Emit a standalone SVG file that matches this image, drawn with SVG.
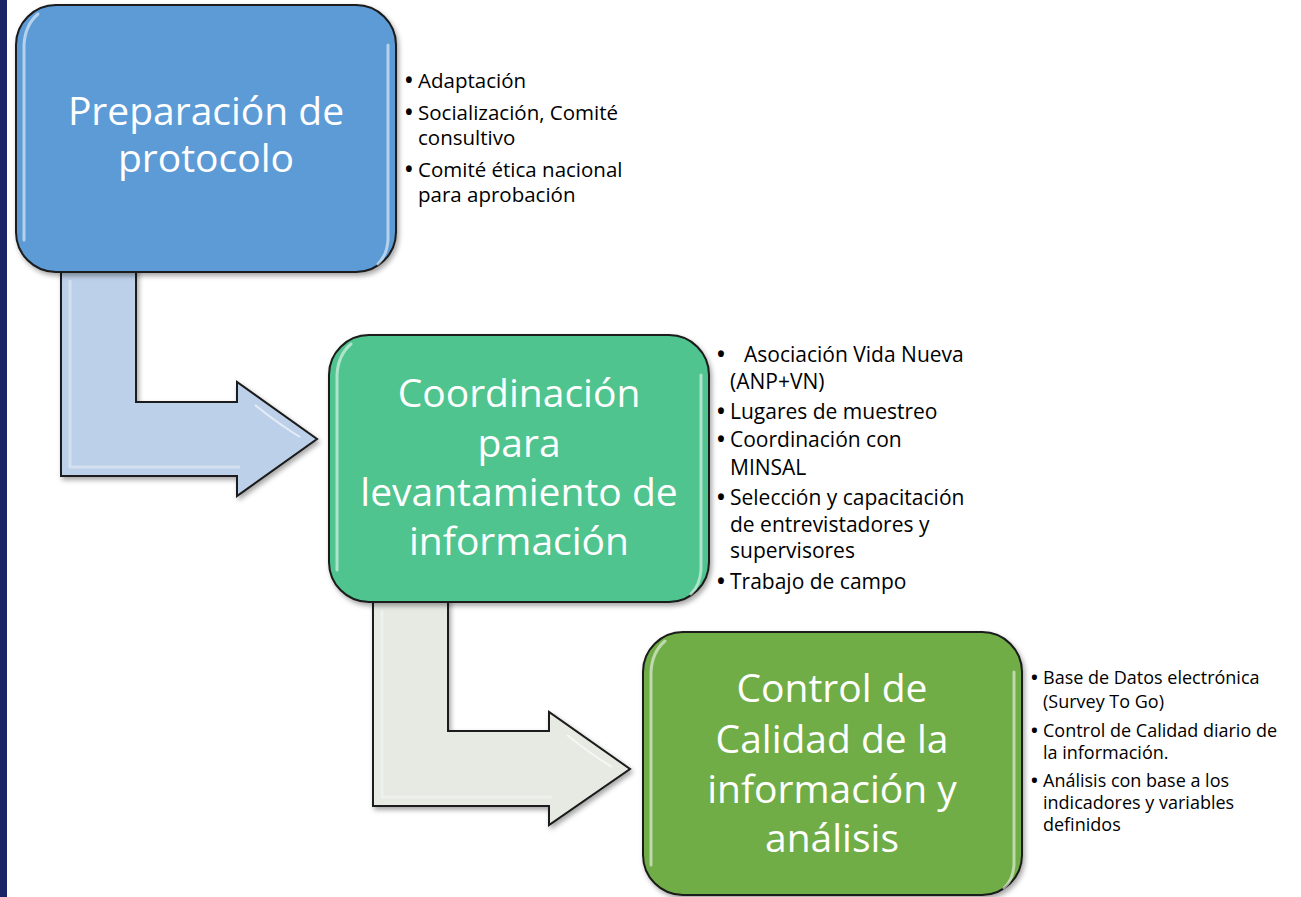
<svg xmlns="http://www.w3.org/2000/svg" width="1301" height="897" viewBox="0 0 1301 897">
<defs>
<style>
.box{stroke:#1a1a1a;stroke-width:2}
.hl{fill:none;stroke:#ffffff;stroke-width:3;stroke-linecap:round;opacity:0.55}
.arrow{stroke:#1a1a1a;stroke-width:2;stroke-linejoin:miter}
.ahl{fill:none;stroke:#ffffff;stroke-width:3;opacity:0.35}
.title{font-family:"Open Sans","Liberation Sans",sans-serif;font-size:39px;fill:#ffffff;text-anchor:middle}
.b1{font-family:"Open Sans","Liberation Sans",sans-serif;font-size:20.5px;fill:#000000}
.b2{font-family:"Open Sans","Liberation Sans",sans-serif;font-size:21px;fill:#000000}
.b3{font-family:"Open Sans","Liberation Sans",sans-serif;font-size:18px;fill:#000000}
.dot{font-weight:bold}
</style>
<filter id="sh" x="-10%" y="-10%" width="130%" height="130%">
<feDropShadow dx="2" dy="3" stdDeviation="2.5" flood-color="#000000" flood-opacity="0.35"/>
</filter>
</defs>
<rect x="0" y="0" width="1301" height="897" fill="#ffffff"/>
<rect x="0" y="0" width="7" height="897" fill="#1b2566"/>

<g id="connectors">
<g id="arrow1" filter="url(#sh)">
<path class="arrow" fill="#bdd0e9" d="M61,268 L136,268 L136,402 L237,402 L237,382 L317,439 L237,496 L237,476 L61,476 Z"/>
<path class="ahl" d="M70,280 L70,467 L240,467"/>
<path d="M255,405 Q280,425 300,437" fill="none" stroke="#ffffff" stroke-width="2" opacity="0.6"/>
</g>
<g id="arrow2" filter="url(#sh)">
<path class="arrow" fill="#e6eae3" d="M373,598 L448,598 L448,731 L549,731 L549,712 L630,769 L549,825 L549,806 L373,806 Z"/>
<path class="ahl" d="M382,610 L382,797 L552,797"/>
<path d="M567,735 Q592,755 612,767" fill="none" stroke="#ffffff" stroke-width="2" opacity="0.6"/>
</g>
</g>

<g id="node1">
<rect class="box" x="16" y="5" width="380" height="267" rx="40" fill="#5b9bd5" filter="url(#sh)"/>
<path class="hl" d="M24,240 L24,45 Q25,25 38,14"/>
<path class="hl" d="M388,45 L388,240 Q387,255 378,264"/>
<text class="title"><tspan x="206" y="125">Preparación de</tspan><tspan x="206" y="172">protocolo</tspan></text>
</g>

<g id="notes1">
<text class="b1"><tspan class="dot" x="405" y="88">•</tspan><tspan x="418" y="88">Adaptación</tspan></text>
<text class="b1"><tspan class="dot" x="405" y="120">•</tspan><tspan x="418" y="120">Socialización, Comité</tspan><tspan x="418" y="145">consultivo</tspan></text>
<text class="b1"><tspan class="dot" x="405" y="177">•</tspan><tspan x="418" y="177">Comité ética nacional</tspan><tspan x="418" y="202">para aprobación</tspan></text>
</g>

<g id="node2">
<rect class="box" x="329" y="335" width="380" height="267" rx="40" fill="#4fc48e" filter="url(#sh)"/>
<path class="hl" d="M337,570 L337,375 Q338,355 351,344"/>
<path class="hl" d="M701,375 L701,570 Q700,585 691,594"/>
<text class="title"><tspan x="519" y="407">Coordinación</tspan><tspan x="519" y="457">para</tspan><tspan x="519" y="506">levantamiento de</tspan><tspan x="519" y="555">información</tspan></text>
</g>

<g id="notes2">
<text class="b2"><tspan class="dot" x="717" y="362">•</tspan><tspan x="744" y="362">Asociación Vida Nueva</tspan><tspan x="730" y="389">(ANP+VN)</tspan></text>
<text class="b2"><tspan class="dot" x="717" y="419">•</tspan><tspan x="730" y="419">Lugares de muestreo</tspan></text>
<text class="b2"><tspan class="dot" x="717" y="447">•</tspan><tspan x="730" y="447">Coordinación con</tspan><tspan x="730" y="475">MINSAL</tspan></text>
<text class="b2"><tspan class="dot" x="717" y="505">•</tspan><tspan x="730" y="505">Selección y capacitación</tspan><tspan x="730" y="532">de entrevistadores y</tspan><tspan x="730" y="558">supervisores</tspan></text>
<text class="b2"><tspan class="dot" x="717" y="589">•</tspan><tspan x="730" y="589">Trabajo de campo</tspan></text>
</g>

<g id="node3">
<rect class="box" x="643" y="632" width="379" height="263" rx="40" fill="#70ad47" filter="url(#sh)"/>
<path class="hl" d="M651,865 L651,672 Q652,652 665,641"/>
<path class="hl" d="M1014,672 L1014,865 Q1013,880 1004,888"/>
<text class="title"><tspan x="832" y="702">Control de</tspan><tspan x="832" y="753">Calidad de la</tspan><tspan x="832" y="803">información y</tspan><tspan x="832" y="852">análisis</tspan></text>
</g>

<g id="notes3">
<text class="b3"><tspan class="dot" x="1031" y="684">•</tspan><tspan x="1043" y="684">Base de Datos electrónica</tspan><tspan x="1043" y="708">(Survey To Go)</tspan></text>
<text class="b3"><tspan class="dot" x="1031" y="737">•</tspan><tspan x="1043" y="737">Control de Calidad diario de</tspan><tspan x="1043" y="759">la información.</tspan></text>
<text class="b3"><tspan class="dot" x="1031" y="787">•</tspan><tspan x="1043" y="787">Análisis con base a los</tspan><tspan x="1043" y="809">indicadores y variables</tspan><tspan x="1043" y="831">definidos</tspan></text>
</g>
</svg>
